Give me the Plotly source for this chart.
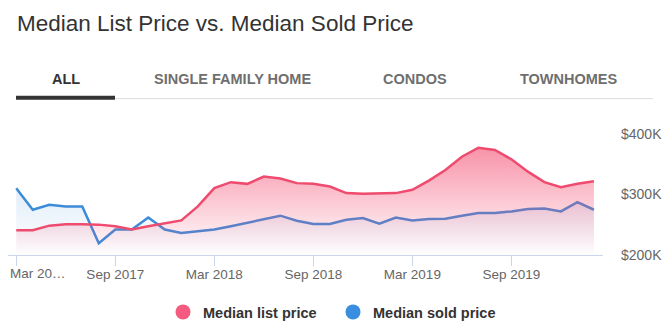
import plotly.graph_objects as go

# ---------------- data ----------------
months = [
    "Mar 2017", "Apr 2017", "May 2017", "Jun 2017", "Jul 2017", "Aug 2017",
    "Sep 2017", "Oct 2017", "Nov 2017", "Dec 2017", "Jan 2018", "Feb 2018",
    "Mar 2018", "Apr 2018", "May 2018", "Jun 2018", "Jul 2018", "Aug 2018",
    "Sep 2018", "Oct 2018", "Nov 2018", "Dec 2018", "Jan 2019", "Feb 2019",
    "Mar 2019", "Apr 2019", "May 2019", "Jun 2019", "Jul 2019", "Aug 2019",
    "Sep 2019", "Oct 2019", "Nov 2019", "Dec 2019", "Jan 2020", "Feb 2020",
]
median_list_price = [
    240800, 240800, 248500, 250700, 250700, 250200,
    247400, 242000, 247400, 251800, 257200, 280300,
    310500, 320400, 317600, 329600, 326300, 318800,
    317600, 313200, 302300, 301200, 301200, 302300,
    307700, 323000, 340600, 362500, 377300, 373500,
    358200, 337800, 320400, 312200, 317600, 322000,
]
median_sold_price = [
    310500, 274800, 283000, 280000, 280000, 219400,
    242000, 242000, 262000, 242000, 236500, 239000,
    242000, 247400, 253000, 259500, 265000, 256700,
    251300, 251300, 258400, 261000, 251800, 262000,
    257000, 259500, 260000, 265000, 269400, 269400,
    272000, 276000, 277000, 272000, 287500, 274800,
]
tick_months = ["Mar 2017", "Sep 2017", "Mar 2018", "Sep 2018", "Mar 2019", "Sep 2019"]
tick_text = ["Mar 20…", "Sep 2017", "Mar 2018", "Sep 2018", "Mar 2019", "Sep 2019"]
y_ticks = [200000, 300000, 400000]
y_tick_text = ["$200K", "$300K", "$400K"]
tabs = ["ALL", "SINGLE FAMILY HOME", "CONDOS", "TOWNHOMES"]
series_names = ["Median list price", "Median sold price"]

# ---------------- layout geometry ----------------
W, H = 671, 328
L, R, T, B = 8, 68, 134, 72.5
PW = W - L - R
PH = H - T - B


def px(x):
    return (x - L) / PW


def py(y):
    return (H - B - y) / PH


RED = "#EE4B6E"
BLUE = "#3C8BD9"
FONT = "Liberation Sans, Arial, sans-serif"
TICK_FONT = dict(family=FONT, size=13.5, color="#666666")

fig = go.Figure()

fig.add_trace(go.Scatter(
    x=months, y=median_sold_price, mode="lines",
    line=dict(color=BLUE, width=2.5),
    fill="tozeroy",
    fillgradient=dict(type="vertical", start=200000, stop=312000,
                      colorscale=[[0, "rgba(60,139,217,0)"], [1, "rgba(60,139,217,0.16)"]]),
    showlegend=False, hoverinfo="skip",
))
fig.add_trace(go.Scatter(
    x=months, y=median_list_price, mode="lines",
    line=dict(color=RED, width=2.5),
    fill="tozeroy",
    fillgradient=dict(type="vertical", start=200000, stop=378000,
                      colorscale=[[0, "rgba(244,80,115,0)"], [1, "rgba(244,80,115,0.62)"]]),
    showlegend=False, hoverinfo="skip",
))
# legend entries
fig.add_trace(go.Scatter(x=[None], y=[None], mode="markers", name=series_names[0],
                         marker=dict(color="#F45B7E", size=15)))
fig.add_trace(go.Scatter(x=[None], y=[None], mode="markers", name=series_names[1],
                         marker=dict(color="#3A8EE0", size=15)))

annotations = [
    dict(text="Median List Price vs. Median Sold Price", xref="paper", yref="paper",
         x=px(15), y=py(23.5), xanchor="left", yanchor="middle", showarrow=False,
         font=dict(family=FONT, size=22.5, color="#333333")),
    # first x tick label is pushed inside the chart (as in the original)
    dict(text=tick_text[0], xref="x", yref="paper", x=tick_months[0], y=py(274),
         xanchor="left", yanchor="middle", xshift=-8, showarrow=False, font=TICK_FONT),
]
tab_centers = [65.5, 232, 415, 568.5]
for i, (t, cx) in enumerate(zip(tabs, tab_centers)):
    annotations.append(dict(
        text=t, xref="paper", yref="paper", x=px(cx), y=py(78.5),
        xanchor="center", yanchor="middle", showarrow=False,
        font=dict(family=FONT, size=14.5, weight=700,
                  color="#333333" if i == 0 else "#6f6f6f")))

shapes = [
    dict(type="line", xref="paper", yref="paper", x0=px(115), x1=px(653), y0=py(98.5), y1=py(98.5),
         line=dict(color="#dddddd", width=1)),
    dict(type="rect", xref="paper", yref="paper", x0=px(16), x1=px(115), y0=py(99.5), y1=py(95.5),
         fillcolor="#333333", line=dict(width=0)),
]

fig.update_layout(
    width=W, height=H,
    margin=dict(l=L, r=R, t=T, b=B, pad=0, autoexpand=False),
    paper_bgcolor="white", plot_bgcolor="white",
    font=dict(family=FONT, color="#666666"),
    annotations=annotations, shapes=shapes,
    showlegend=True,
    legend=dict(orientation="h", xref="container", yref="container",
                x=163 / W, xanchor="left", y=(H - 312) / H, yanchor="middle",
                entrywidth=125, entrywidthmode="pixels",
                font=dict(size=14.5, color="#333333", weight=700),
                itemclick=False, itemdoubleclick=False),
    xaxis=dict(type="category", categoryorder="array", categoryarray=months,
               range=[-0.5, 35.55], tickmode="array", tickvals=tick_months,
               ticktext=[""] + tick_text[1:], ticklabelstandoff=-3,
               ticks="outside", ticklen=10, tickwidth=1, tickcolor="#ccd6eb",
               showline=True, linecolor="#ccd6eb", linewidth=1, automargin=False,
               showgrid=False, zeroline=False, tickfont=TICK_FONT),
    yaxis=dict(side="right", range=[200000, 400000], tickmode="array",
               tickvals=y_ticks, ticktext=y_tick_text, ticks="", showgrid=False,
               zeroline=False, showline=False, ticklabelstandoff=17, automargin=False,
               tickfont=dict(family=FONT, size=14, color="#666666")),
)

fig.write_html("out.html")
